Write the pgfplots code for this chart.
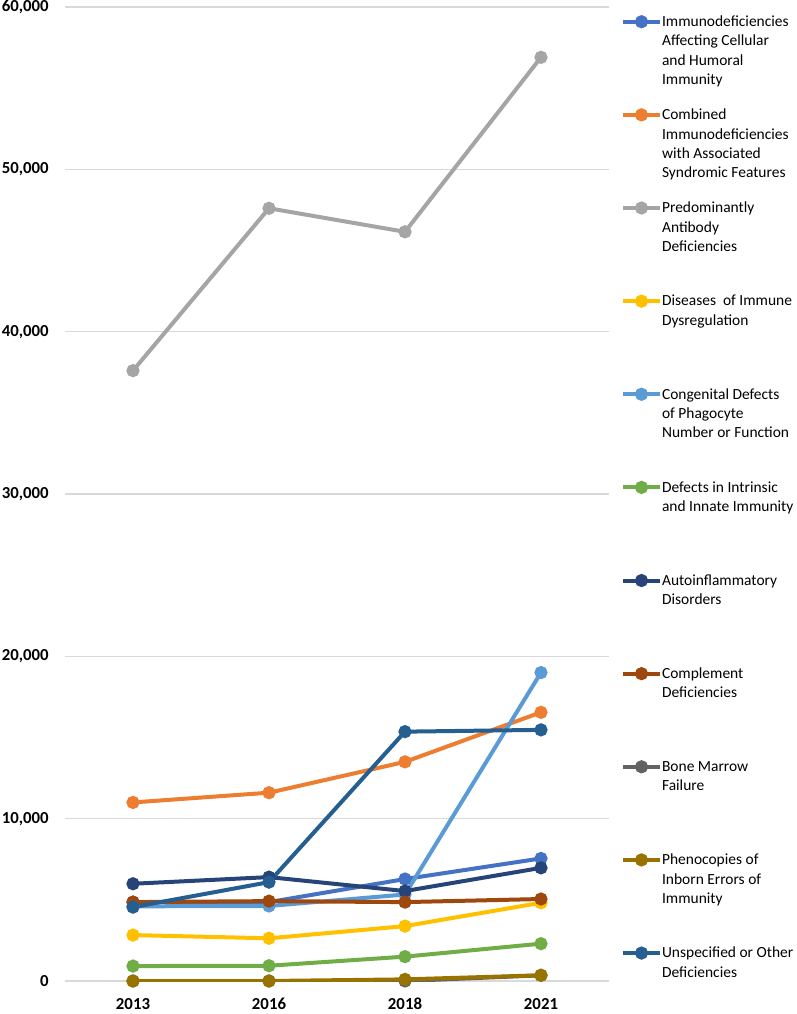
\documentclass[border=0pt]{standalone}
\usepackage{pgfplots}
\pgfplotsset{compat=1.18}
\usepackage{fontspec}
\setmainfont{Carlito}

\definecolor{c1}{HTML}{4472C4}
\definecolor{c2}{HTML}{ED7D31}
\definecolor{c3}{HTML}{A5A5A5}
\definecolor{c4}{HTML}{FFC000}
\definecolor{c5}{HTML}{5B9BD5}
\definecolor{c6}{HTML}{70AD47}
\definecolor{c7}{HTML}{264478}
\definecolor{c8}{HTML}{9E480E}
\definecolor{c9}{HTML}{636363}
\definecolor{c10}{HTML}{997300}
\definecolor{c11}{HTML}{255E91}
\definecolor{gridgray}{HTML}{D9D9D9}

% legend text: first line on the baseline, no depth, fixed pitch via row sep
\newcommand{\legtext}[1]{\raisebox{0pt}[\height][0pt]{\parbox[t]{101pt}{\raggedright\strut #1}}}

\pgfplotsset{ser/.style={color=#1, line width=3pt, mark=*, mark size=3.4pt, mark options={solid}}}

\begin{document}
\begin{tikzpicture}
\begin{axis}[
    name=ax,
    scale only axis,
    width=408pt, height=730.5pt,
    xmin=-0.5, xmax=3.5,
    ymin=0, ymax=60000,
    xtick={0,1,2,3},
    xticklabels={2013,2016,2018,2021},
    ytick={0,10000,...,60000},
    scaled y ticks=false,
    /pgf/number format/.cd, 1000 sep={,}, assume math mode=true,
    /pgfplots/.cd,
    axis line style={draw=none},
    major tick length=0pt,
    ymajorgrids,
    grid style={color=gridgray, line width=0.9pt},
    tick label style={font=\fontsize{12.6pt}{15pt}\selectfont\bfseries},
    yticklabel style={inner sep=0pt, xshift=-12pt},
    xticklabel style={inner sep=0pt, yshift=-12.75pt},
    legend style={
        draw=none, fill=none,
        at={(1,1)}, anchor=north west,
        xshift=9pt, yshift=-4.5pt,
        inner sep=0pt, outer sep=0pt,
        row sep=58.2pt, column sep=0pt,
        nodes={inner sep=0pt, anchor=base west},
        font=\fontsize{11.6pt}{14.5pt}\selectfont,
    },
    legend image code/.code={
        \draw[mark repeat=2, mark phase=2, #1] plot coordinates {(0pt,3.6pt) (13.9pt,3.6pt) (27.8pt,3.6pt)};
    },
]
\addplot[ser=c1] coordinates {(0,4860) (1,4860) (2,6280) (3,7550)};
\addlegendentry{\legtext{Immunodeficiencies\newline Affecting Cellular\newline and Humoral\newline Immunity}}
\addplot[ser=c2] coordinates {(0,11000) (1,11600) (2,13500) (3,16550)};
\addlegendentry{\legtext{Combined\newline Immunodeficiencies\newline with Associated\newline Syndromic Features}}
\addplot[ser=c3] coordinates {(0,37600) (1,47600) (2,46150) (3,56900)};
\addlegendentry{\legtext{Predominantly\newline Antibody\newline Deficiencies}}
\addplot[ser=c4] coordinates {(0,2830) (1,2630) (2,3380) (3,4820)};
\addlegendentry{\legtext{Diseases\ \ of Immune\newline Dysregulation}}
\addplot[ser=c5] coordinates {(0,4600) (1,4620) (2,5330) (3,19000)};
\addlegendentry{\legtext{Congenital Defects\newline of Phagocyte\newline Number or Function}}
\addplot[ser=c6] coordinates {(0,920) (1,940) (2,1500) (3,2300)};
\addlegendentry{\legtext{Defects in Intrinsic\newline and Innate Immunity}}
\addplot[ser=c7] coordinates {(0,5990) (1,6400) (2,5540) (3,6970)};
\addlegendentry{\legtext{Autoinflammatory\newline Disorders}}
\addplot[ser=c8] coordinates {(0,4860) (1,4920) (2,4860) (3,5050)};
\addlegendentry{\legtext{Complement\newline Deficiencies}}
\addplot[ser=c9] coordinates {(0,0) (1,0) (2,0) (3,350)};
\addlegendentry{\legtext{Bone Marrow\newline Failure}}
\addplot[ser=c10] coordinates {(0,0) (1,0) (2,100) (3,350)};
\addlegendentry{\legtext{Phenocopies of\newline Inborn Errors of\newline Immunity}}
\addplot[ser=c11] coordinates {(0,4550) (1,6090) (2,15360) (3,15470)};
\addlegendentry{\legtext{Unspecified or Other\newline Deficiencies}}
\end{axis}
\pgfresetboundingbox
\path ([shift={(-48.75pt,-24.75pt)}]ax.south west) rectangle ([shift={(141pt,5.25pt)}]ax.north east);
\end{tikzpicture}
\end{document}
